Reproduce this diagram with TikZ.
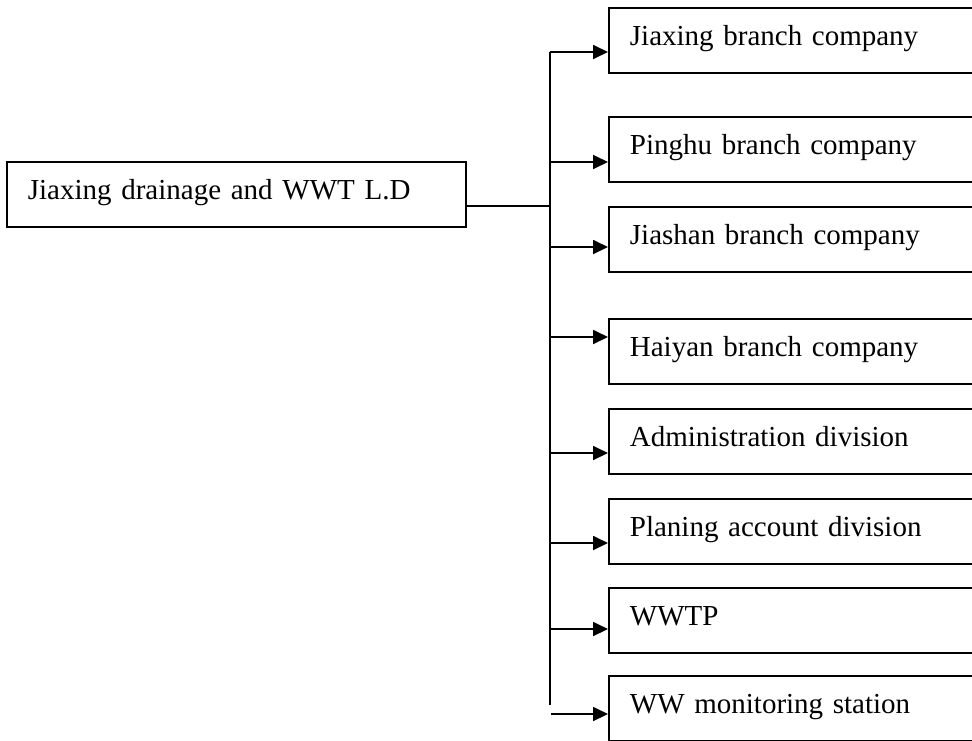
\documentclass[tikz,border=0pt]{standalone}
\usepackage{fontspec}
\setmainfont{Liberation Serif}
\usetikzlibrary{arrows.meta}

\tikzset{
  unit/.style={draw, line width=0.9pt, anchor=north west, inner xsep=10.5pt, inner ysep=0pt,
    text height=19pt, text depth=13.5pt, align=left, font=\fontsize{14.5}{17}\selectfont},
  branch/.style={unit, text width=190pt},
  link/.style={line width=0.9pt, -{Triangle[length=7.5pt,width=7pt]}}
}

\begin{document}
\begin{tikzpicture}[x=0.5pt,y=-0.5pt]
\clip (0,0) rectangle (972,740);
\node[unit, text width=208.5pt] (ld) at (6,161) {Jiaxing drainage and WWT L.D};
\node[branch] (jx) at (608,7) {Jiaxing branch company};
\node[branch] (ph) at (608,116) {Pinghu branch company};
\node[branch] (js) at (608,206) {Jiashan branch company};
\node[branch] (hy) at (608,318) {Haiyan branch company};
\node[branch] (ad) at (608,408) {Administration division};
\node[branch] (pl) at (608,498) {Planing account division};
\node[branch] (tp) at (608,587) {WWTP};
\node[branch] (ms) at (608,675) {WW monitoring station};
\coordinate (hub) at (551,206);
\coordinate (top) at (550,52);
\coordinate (bot) at (550,705);
\coordinate (last) at (551,714);
\draw[line width=0.9pt] (ld.east |- hub) -- (hub);
\draw[line width=0.9pt] (top) -- (bot);
\draw[link] (top) -- (top -| jx.west);
\draw[link] (550,162) -- (ph.west |- 0,162);
\draw[link] (550,247) -- (js.west |- 0,247);
\draw[link] (550,337) -- (hy.west |- 0,337);
\draw[link] (550,453) -- (ad.west |- 0,453);
\draw[link] (550,543) -- (pl.west |- 0,543);
\draw[link] (550,629) -- (tp.west |- 0,629);
\draw[link] (last) -- (last -| ms.west);
\end{tikzpicture}
\end{document}
